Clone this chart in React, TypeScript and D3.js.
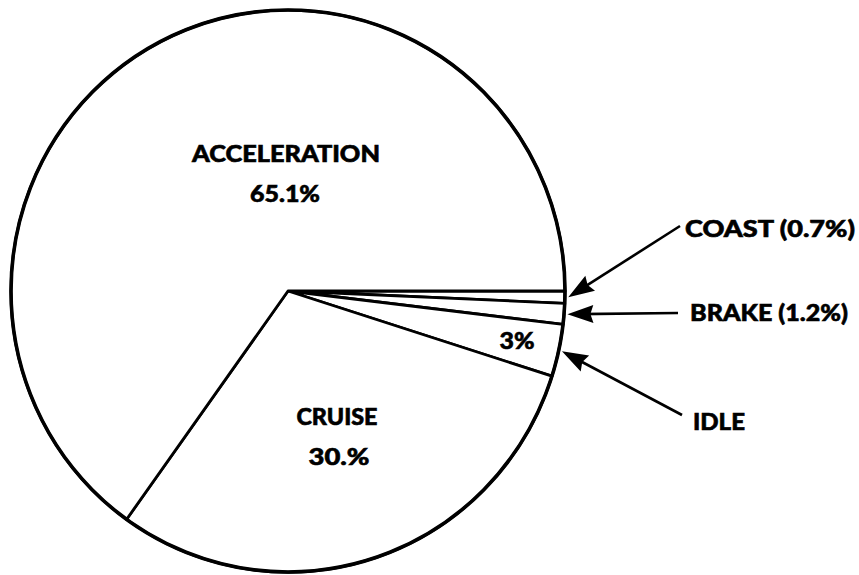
import React from "react";
import * as d3 from "d3";

const categories = ["COAST", "BRAKE", "IDLE", "CRUISE", "ACCELERATION"];
const shares = [0.7, 1.2, 3, 30, 65.1];
const insideLabels = ["", "", "3%", "30.%", "65.1%"];
const outsideLabels = ["COAST (0.7%)", "BRAKE (1.2%)", "IDLE", "", ""];

const W = 859;
const H = 575;
const CX = 288;
const CY = 291;
const RX = 277;
const RY = 281;

// layout (positions of labels, not data)
const insideLayout: Record<string, { name?: [number, number, number]; pct: [number, number, number] }> = {
  IDLE: { pct: [517, 349, 35] },
  CRUISE: { name: [337, 425, 81], pct: [339, 465, 61] },
  ACCELERATION: { name: [286, 162, 188], pct: [285, 202, 70] },
};
const outsideLayout: Record<string, { tail: [number, number]; text: [number, number, number] }> = {
  COAST: { tail: [680, 226], text: [685, 237, 170] },
  BRAKE: { tail: [678, 313], text: [690, 321, 158] },
  IDLE: { tail: [682, 415], text: [693, 430, 52] },
};

const FONT = "Lato, 'DejaVu Sans', sans-serif";
const FS = 23;

export default function App() {
  const data = categories.map((c, i) => ({ name: c, value: shares[i], inside: insideLabels[i], outside: outsideLabels[i] }));
  const pie = d3
    .pie<any>()
    .sort(null)
    .value((d) => d.value)
    .startAngle(Math.PI / 2)
    .endAngle(Math.PI / 2 + 2 * Math.PI);
  const arcs = pie(data);
  const arc = d3.arc<any>().innerRadius(0).outerRadius(1);

  const pt = (a: number, k: number): [number, number] => [CX + RX * k * Math.sin(a), CY - RY * k * Math.cos(a)];

  const textStyle = { fontFamily: FONT, fontWeight: 900, fontSize: FS, fill: "#000", stroke: "#000", strokeWidth: 0.6 } as const;

  return (
    <svg width={W} height={H} style={{ position: "absolute", left: 0, top: 0, background: "#fff" }}>
      <rect width={W} height={H} fill="#fff" />
      <g transform={`translate(${CX},${CY}) scale(${RX},${RY})`}>
        {arcs.map((a, i) => (
          <path
            key={i}
            d={arc(a) || ""}
            fill="#fff"
            stroke="#000"
            strokeWidth={2.8}
            strokeLinejoin="round"
            vectorEffect="non-scaling-stroke"
          />
        ))}
      </g>
      <ellipse cx={CX} cy={CY} rx={RX} ry={RY} fill="none" stroke="#000" strokeWidth={3.6} />
      {arcs.map((a, i) => {
        const lay = insideLayout[a.data.name];
        if (!lay) return null;
        return (
          <g key={"in" + i} style={textStyle} textAnchor="middle">
            {lay.name && (
              <text x={lay.name[0]} y={lay.name[1]} textLength={lay.name[2]} lengthAdjust="spacingAndGlyphs">
                {a.data.name}
              </text>
            )}
            <text x={lay.pct[0]} y={lay.pct[1]} textLength={lay.pct[2]} lengthAdjust="spacingAndGlyphs">
              {a.data.inside}
            </text>
          </g>
        );
      })}
      {arcs.map((a, i) => {
        const lay = outsideLayout[a.data.name];
        if (!lay) return null;
        const mid = (a.startAngle + a.endAngle) / 2;
        const tip = pt(mid, 1.012);
        const [tx, ty] = lay.tail;
        const dx = tx - tip[0];
        const dy = ty - tip[1];
        const len = Math.hypot(dx, dy);
        const ux = dx / len;
        const uy = dy / len;
        const hl = 26;
        const hw = 9;
        const bx = tip[0] + ux * hl;
        const by = tip[1] + uy * hl;
        const head = [
          [tip[0], tip[1]],
          [bx - uy * hw, by + ux * hw],
          [tip[0] + ux * (hl - 3), tip[1] + uy * (hl - 3)],
          [bx + uy * hw, by - ux * hw],
        ];
        return (
          <g key={"out" + i}>
            <line x1={tip[0] + ux * 10} y1={tip[1] + uy * 10} x2={tx} y2={ty} stroke="#000" strokeWidth={2.6} />
            <polygon points={head.map((p) => p.join(",")).join(" ")} fill="#000" />
            <text
              x={lay.text[0]}
              y={lay.text[1]}
              textLength={lay.text[2]}
              lengthAdjust="spacingAndGlyphs"
              style={textStyle}
            >
              {a.data.outside}
            </text>
          </g>
        );
      })}
    </svg>
  );
}
